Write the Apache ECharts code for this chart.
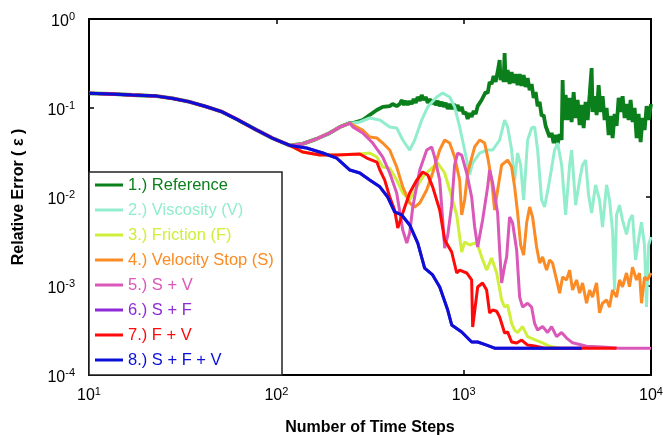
<!DOCTYPE html>
<html><head><meta charset="utf-8">
<script src="https://cdn.jsdelivr.net/npm/echarts/dist/echarts.min.js"></script>
<style>html,body{margin:0;padding:0;background:#fff}#c{width:663px;height:435px}</style>
</head><body><div id="c"></div><script>
// ---- data (x = number of time steps, y = relative error) ----
const seriesNames = ['1.) Reference','2.) Viscosity (V)','3.) Friction (F)','4.) Velocity Stop (S)','5.) S + V','6.) S + F','7.) F + V','8.) S + F + V'];
const seriesColors = ['#0B7F1B','#92EDCC','#CFEF3A','#FB8B24','#DA58B8','#8E2BD6','#FF0A0A','#0A10D8'];

const commonStart = [[10,0.146],[13,0.144],[17,0.140],[23,0.136],[28,0.128],[34,0.118],[42,0.104],[51,0.091],[62,0.074],[78,0.057],[95,0.046],[118,0.038]];
const upperBranch = [[138,0.0395],[164,0.045],[193,0.0524],[218,0.061],[247,0.0678]];
const lowerFV = [[138,0.032],[171,0.0296],[210,0.0296],[279,0.0304]];

const refTail = [[256,0.0678],[289,0.0733],[315,0.0834],[344,0.095],[370,0.103],[403,0.105],[418,0.111],[439,0.105],[456,0.111],
[467,0.123],[479,0.108],[491,0.120],[503,0.108],[515,0.120],[528,0.111],[541,0.126],[555,0.114],[568,0.133],[583,0.120],[597,0.140],[612,0.123],[627,0.133],[643,0.114],[659,0.126],[675,0.111],[692,0.123],[709,0.108],[727,0.120],[745,0.105],[764,0.117],[783,0.103],[802,0.114],[822,0.0975],[842,0.111],[863,0.0975],[885,0.111],[907,0.0950],[929,0.108],[952,0.0926],[976,0.103],[1000,0.0856],[1025,0.0902],[1050,0.0752],[1076,0.0879],[1103,0.0792],[1131,0.0926],[1159,0.0856],[1188,0.105],[1217,0.100],[1247,0.123],[1278,0.120],[1310,0.151],[1343,0.147],[1376,0.196],[1410,0.186],[1445,0.229],[1481,0.196],[1518,0.254],[1556,0.346],[1575,0.206],[1614,0.267],[1634,0.196],[1654,0.415],[1675,0.196],[1717,0.267],[1759,0.186],[1803,0.254],[1848,0.191],[1894,0.241],[1941,0.181],[1990,0.241],[2039,0.177],[2090,0.235],[2142,0.172],[2195,0.217],[2250,0.159],[2306,0.186],[2363,0.130],[2422,0.151],[2482,0.105],[2544,0.117],[2607,0.0813],[2672,0.0834],[2739,0.0628],[2807,0.0644],[2877,0.0472],[2948,0.0524],[3022,0.0404],[3097,0.0497],[3174,0.0394],[3253,0.0510],[3334,0.0437],[3375,0.206],[3417,0.0733],[3502,0.140],[3589,0.0733],[3678,0.130],[3770,0.0696],[3864,0.151],[3960,0.0772],[4058,0.123],[4159,0.0644],[4263,0.108],[4369,0.0596],[4477,0.117],[4589,0.0733],[4703,0.140],[4820,0.281],[4880,0.0902],[5001,0.136],[5126,0.0834],[5253,0.181],[5384,0.0902],[5518,0.136],[5655,0.0733],[5796,0.100],[5940,0.0497],[6088,0.0813],[6239,0.0460],[6395,0.0856],[6554,0.0628],[6717,0.130],[6884,0.0902],[7055,0.136],[7231,0.0772],[7411,0.111],[7595,0.0733],[7784,0.123],[7978,0.0696],[8176,0.100],[8380,0.0460],[8588,0.0856],[8802,0.0415],[9021,0.0772],[9245,0.0566],[9475,0.105],[9711,0.0733],[10000,0.111]];

const viscTail = [[256,0.0678],[279,0.0696],[315,0.0772],[357,0.0733],[403,0.0612],[439,0.0596],[473,0.0437],[515,0.0337],[548,0.0437],[597,0.0733],[643,0.103],[718,0.133],[773,0.147],[842,0.133],[895,0.103],[952,0.0612],[1012,0.0337],[1076,0.0177],[1117,0.0241],[1217,0.0312],[1326,0.0337],[1428,0.0337],[1556,0.0437],[1654,0.0733],[1717,0.0612],[1803,0.0337],[1871,0.0155],[1941,0.0312],[2014,0.0229],[2090,0.00925],[2195,0.0437],[2306,0.0596],[2392,0.0612],[2482,0.0337],[2607,0.00925],[2704,0.00772],[2877,0.0155],[3057,0.0337],[3174,0.0404],[3334,0.0229],[3502,0.00628],[3678,0.0229],[3770,0.0337],[3960,0.0081],[4159,0.0155],[4312,0.0229],[4477,0.026],[4642,0.0105],[4820,0.00661],[5058,0.0137],[5313,0.00925],[5512,0.0046],[5790,0.0137],[6008,0.00925],[6239,0.0041],[6388,0.0009],[6546,0.00628],[6792,0.0081],[7047,0.00551],[7401,0.0038],[7678,0.00551],[7965,0.00628],[8268,0.00196],[8588,0.0033],[8898,0.0052],[9232,0.00289],[9462,0.00058],[9711,0.00289],[10000,0.00355]];

const fricTail = [[315,0.0312],[344,0.0281],[370,0.0217],[403,0.021],[439,0.0155],[473,0.0111],[515,0.00925],[562,0.013],[605,0.0168],[659,0.0201],[727,0.0241],[792,0.0186],[842,0.012],[918,0.00628],[976,0.00241],[1012,0.00312],[1076,0.00289],[1145,0.00304],[1188,0.00289],[1247,0.00212],[1326,0.00151],[1410,0.00206],[1500,0.0014],[1595,0.000696],[1654,0.00058],[1717,0.00061],[1803,0.00038],[1871,0.00032],[1941,0.0003],[2064,0.00035],[2194,0.00027],[2392,0.00025],[2638,0.00023],[2875,0.00021],[3251,0.0002]];

const stopTail = [[256,0.0644],[289,0.0566],[315,0.0472],[344,0.046],[370,0.0404],[403,0.0337],[439,0.0217],[473,0.013],[515,0.00856],[548,0.00772],[583,0.00856],[635,0.012],[683,0.0186],[745,0.0337],[792,0.0437],[842,0.0404],[895,0.0281],[952,0.0155],[976,0.00628],[1012,0.00925],[1050,0.0186],[1145,0.0365],[1217,0.0437],[1294,0.0404],[1343,0.0281],[1410,0.0155],[1463,0.00714],[1518,0.012],[1595,0.0229],[1717,0.026],[1803,0.0217],[1871,0.013],[1941,0.00661],[2014,0.00289],[2090,0.00223],[2168,0.0051],[2250,0.00772],[2333,0.00596],[2451,0.00274],[2544,0.00181],[2638,0.00212],[2771,0.00151],[2877,0.00196],[2983,0.00181],[3133,0.00117],[3253,0.00083],[3373,0.00126],[3543,0.00117],[3678,0.00151],[3813,0.0009],[4006,0.00117],[4159,0.00083],[4312,0.00108],[4529,0.00064],[4699,0.0009],[4875,0.00075],[5120,0.00108],[5313,0.0005],[5512,0.00064],[5790,0.0007],[6008,0.00058],[6234,0.0009],[6546,0.00075],[6792,0.00117],[7047,0.00098],[7401,0.0014],[7678,0.00098],[7965,0.00163],[8369,0.00117],[8682,0.0014],[8898,0.00064],[9232,0.00126],[9579,0.00117],[10000,0.0014]];

const svTail = [[256,0.0612],[289,0.0524],[327,0.0404],[370,0.0281],[403,0.0186],[439,0.0111],[473,0.00426],[497,0.00304],[515,0.00394],[535,0.00772],[583,0.0201],[635,0.0337],[675,0.0365],[700,0.0281],[745,0.0155],[773,0.00551],[792,0.00267],[822,0.0037],[863,0.0081],[895,0.0229],[929,0.0312],[976,0.0296],[1038,0.0186],[1103,0.01],[1145,0.0046],[1188,0.00274],[1262,0.00551],[1343,0.013],[1376,0.0201],[1428,0.0144],[1518,0.00661],[1556,0.00254],[1595,0.00108],[1654,0.00168],[1696,0.00212],[1759,0.00596],[1825,0.0051],[1918,0.00254],[1990,0.00075],[2064,0.00058],[2115,0.00057],[2194,0.00064],[2305,0.00058],[2392,0.00038],[2481,0.00032],[2638,0.00035],[2805,0.0003],[2947,0.00035],[3133,0.00027],[3332,0.0003],[3543,0.00026],[3813,0.00023],[4157,0.00022],[4529,0.00021],[5512,0.000206],[6792,0.0002],[10000,0.0002]];

const sfTail = [[145,0.0355],[177,0.0312],[210,0.0274],[247,0.0201],[279,0.0186],[315,0.0155],[357,0.013],[393,0.01],[428,0.0068],[467,0.00628],[515,0.00485],[569,0.00304],[619,0.00159],[683,0.00133],[745,0.000975],[822,0.000537],[863,0.000365],[976,0.000304],[1103,0.000235],[1188,0.000235],[1326,0.000217],[1463,0.0002],[4263,0.0002]];

const fvTail = [[304,0.0274],[344,0.0247],[357,0.0201],[379,0.0155],[403,0.01],[428,0.00714],[445,0.00448],[456,0.00448],[485,0.00772],[515,0.0111],[562,0.0155],[605,0.0191],[643,0.0177],[683,0.013],[745,0.00714],[792,0.00329],[863,0.00241],[918,0.0014],[952,0.00151],[1038,0.0014],[1103,0.00117],[1117,0.000346],[1188,0.000975],[1262,0.00108],[1326,0.0009],[1376,0.000497],[1428,0.000537],[1500,0.00052],[1556,0.000448],[1654,0.000296],[1717,0.000304],[1803,0.000235],[1918,0.000229],[2039,0.000247],[2194,0.000217],[2392,0.000212],[2704,0.0002],[6546,0.0002]];

const sfvTail = [[145,0.0355],[177,0.0312],[210,0.0274],[247,0.0201],[279,0.0186],[315,0.0155],[357,0.013],[393,0.01],[428,0.0068],[467,0.00628],[515,0.00485],[569,0.00304],[619,0.00159],[683,0.00133],[745,0.000975],[822,0.000537],[863,0.000365],[976,0.000304],[1103,0.000235],[1188,0.000235],[1326,0.000217],[1463,0.0002],[4263,0.0002]];

const seriesData = [
  commonStart.concat(upperBranch, refTail),
  commonStart.concat(upperBranch, viscTail),
  commonStart.concat(lowerFV, fricTail),
  commonStart.concat(upperBranch, stopTail),
  commonStart.concat(upperBranch, svTail),
  commonStart.concat(sfTail),
  commonStart.concat(lowerFV, fvTail),
  commonStart.concat(sfvTail)
];
const lineWidths = [3.8, 3, 3, 3, 3, 3, 3, 3];

// ---- chart ----
const FONT = "'Liberation Sans', Arial, Helvetica, sans-serif";
const chart = echarts.init(document.getElementById('c'), null, {renderer: 'canvas'});
const powLabel = v => '{b|10}{s|' + Math.round(Math.log10(v)) + '}';
const richTick = {
  b: {fontSize: 16, fontFamily: FONT, color: '#000'},
  s: {fontSize: 11, fontFamily: FONT, color: '#000', padding: [0, 0, 9, 0]}
};
const axisCommon = {
  type: 'log', logBase: 10,
  axisLine: {show: true, onZero: false, lineStyle: {color: '#000', width: 2}},
  axisTick: {show: true, inside: true, length: 5, lineStyle: {color: '#000', width: 1.5}},
  splitLine: {show: false},
  minorTick: {show: false}
};
chart.setOption({
  animation: false,
  backgroundColor: '#fff',
  grid: {left: 89, right: 12, top: 19, bottom: 60, containLabel: false, outerBoundsMode: 'none'},
  xAxis: [
    Object.assign({}, axisCommon, {
      position: 'bottom', min: 10, max: 10000,
      name: 'Number of Time Steps', nameLocation: 'middle', nameGap: 45,
      nameTextStyle: {fontSize: 16, fontWeight: 'bold', fontFamily: FONT, color: '#000'},
      axisLabel: {formatter: powLabel, rich: richTick, margin: 11}
    }),
    Object.assign({}, axisCommon, {position: 'top', min: 10, max: 10000, axisLabel: {show: false}})
  ],
  yAxis: [
    Object.assign({}, axisCommon, {
      position: 'left', min: 0.0001, max: 1,
      name: 'Relative Error ( \u03B5 )', nameLocation: 'middle', nameGap: 62, nameRotate: 90,
      nameTextStyle: {fontSize: 16, fontWeight: 'bold', fontFamily: FONT, color: '#000'},
      axisLabel: {formatter: powLabel, rich: richTick, margin: 14, padding: [5, 0, 0, 0]}
    }),
    Object.assign({}, axisCommon, {position: 'right', min: 0.0001, max: 1, axisLabel: {show: false}})
  ],
  legend: {
    orient: 'vertical', left: 95, top: 176, padding: 0,
    icon: 'rect', itemWidth: 28, itemHeight: 3, itemGap: 7,
    textStyle: {fontSize: 16.5, fontFamily: FONT, lineHeight: 18},
    data: seriesNames.map((n, i) => ({name: n, textStyle: {color: seriesColors[i]}})),
    selectedMode: false
  },
  graphic: [{
    type: 'rect', z: 3,
    shape: {x: 89, y: 172, width: 193, height: 203},
    style: {fill: '#fff', stroke: '#222', lineWidth: 1.5}
  }],
  series: seriesNames.map((n, i) => ({
    name: n, type: 'line', data: seriesData[i],
    showSymbol: false, symbol: 'none', smooth: false,
    color: seriesColors[i],
    lineStyle: {color: seriesColors[i], width: lineWidths[i]},
    emphasis: {disabled: true}
  }))
});
</script></body></html>
